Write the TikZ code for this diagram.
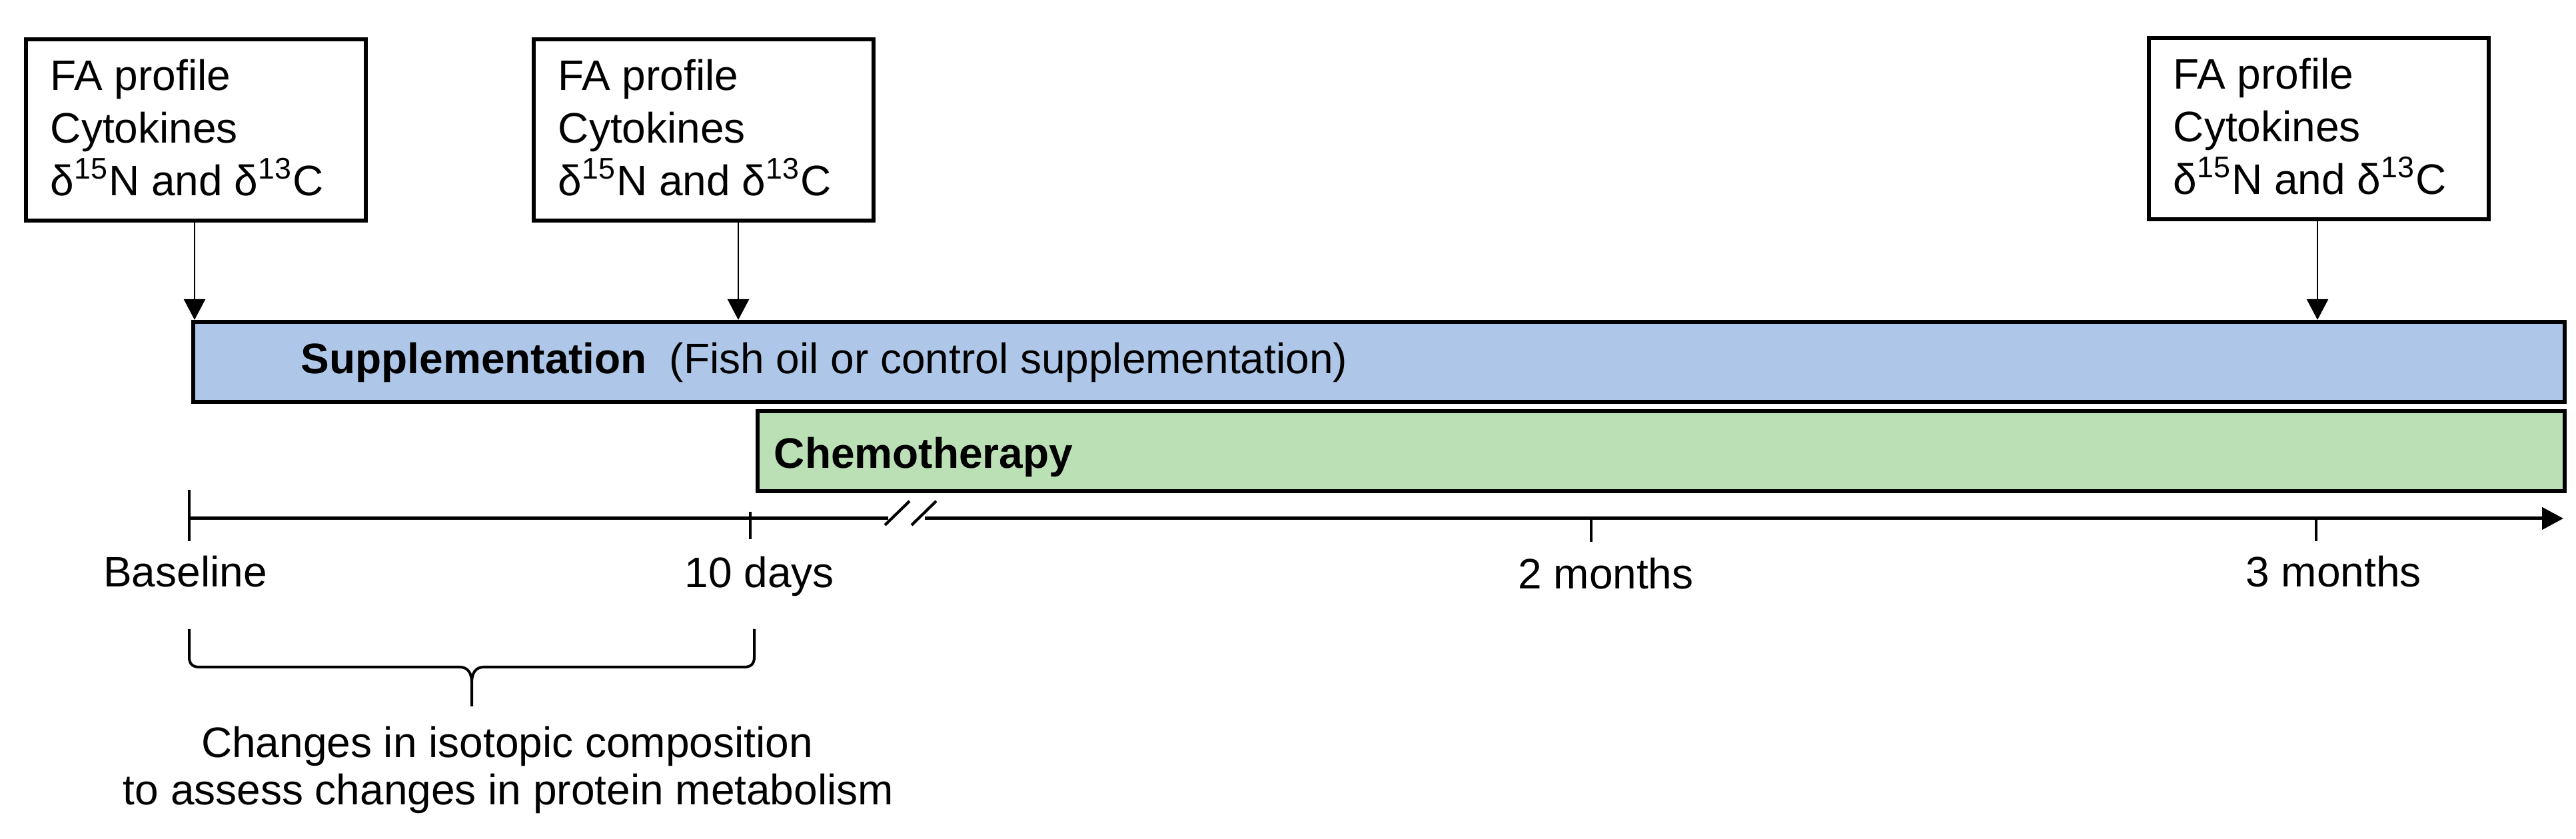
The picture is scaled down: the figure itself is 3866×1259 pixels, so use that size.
\documentclass[tikz,border=0pt]{standalone}
\usepackage{fontspec}
\setmainfont{Liberation Sans}
\usetikzlibrary{arrows.meta}
\definecolor{supblue}{RGB}{174,199,232}
\definecolor{chemogreen}{RGB}{187,224,182}
\newcommand\fatext{\vtop{\hbox{FA profile}\hbox{Cytokines}\hbox{δ\textsuperscript{15}N and δ\textsuperscript{13}C}}}
\begin{document}
\begin{tikzpicture}[x=0.25pt,y=-0.25pt,
  lbl/.style={font=\fontsize{16pt}{19.75pt}\selectfont, inner sep=0pt},
  lblb/.style={font=\fontsize{16pt}{19.75pt}\selectfont\bfseries, inner sep=0pt},
  fabox/.style={draw, line width=1.4pt, minimum width=127.5pt, minimum height=68pt, inner sep=0pt, anchor=north west},
  bar/.style={draw, line width=1.5pt, inner sep=0pt, anchor=north west, minimum height=30pt},
  arr/.style={line width=0.65pt, -{Triangle[length=7.75pt,width=8pt]}},
  axis/.style={line width=1.25pt},
  tickline/.style={line width=1.05pt},
  bracel/.style={line width=1pt}
]
\useasboundingbox (0,0) rectangle (3866,1259);

% measurement boxes
\node[fabox] (b1) at (36,56) {};
\node[fabox] (b2) at (798,56) {};
\node[fabox] (b3) at (3222,54) {};
\node[lbl, anchor=base west] (t1) at (75,136) {\fatext};
\node[lbl, anchor=base west] (t2) at (837,136) {\fatext};
\node[lbl, anchor=base west] (t3) at (3261,134) {\fatext};

% bars
\node[bar, minimum width=889.75pt, fill=supblue] (sup) at (287,480) {};
\node[bar, minimum width=678pt, fill=chemogreen] (chemo) at (1134,614) {};
\node[lblb, anchor=base west] (suptxt) at (451,561) {Supplementation};
\node[lbl, anchor=base west] (fish) at (1004,561) {(Fish oil or control supplementation)};
\node[lblb, anchor=base west] (chemotxt) at (1161,703) {Chemotherapy};

% arrows from boxes to supplementation bar
\coordinate (a1) at (292,0);
\coordinate (a2) at (1108,0);
\coordinate (a3) at (3478,0);
\draw[arr] (b1.south -| a1) -- (sup.north -| a1);
\draw[arr] (b2.south -| a2) -- (sup.north -| a2);
\draw[arr] (b3.south -| a3) -- (sup.north -| a3);

% time axis
\coordinate (t0) at (284,778);
\coordinate (bk1) at (1333,778);
\coordinate (bk2) at (1388,778);
\coordinate (tend) at (3847,778);
\draw[axis] (t0) -- (bk1);
\draw[axis, -{Triangle[length=8pt,width=8.25pt]}] (bk2) -- (tend);
\draw[tickline] (1328,788) -- (1365,752);
\draw[tickline] (1368,788) -- (1405,752);

% ticks
\draw[tickline] (284,735) -- (284,812);
\draw[tickline] (1126,768) -- (1126,809);
\draw[tickline] (2388,778) -- (2388,813);
\draw[tickline] (3476,778) -- (3476,812);

% tick labels
\node[lbl, anchor=base] (l0) at (278,881) {Baseline};
\node[lbl, anchor=base] (l10) at (1140,882) {10 days};
\node[lbl, anchor=base] (l2) at (2410,884) {2 months};
\node[lbl, anchor=base] (l3) at (3502,881) {3 months};

% brace
\draw[bracel] (284,944) -- (284,986) .. controls (284,996) and (289,1001) .. (299,1001)
  -- (690,1001) .. controls (702,1001) and (708,1010) .. (708,1024) -- (708,1060);
\draw[bracel] (708,1024) .. controls (708,1010) and (714,1001) .. (726,1001)
  -- (1117,1001) .. controls (1127,1001) and (1132,996) .. (1132,986) -- (1132,944);

% note
\node[lbl, anchor=base] (n1) at (761,1137) {Changes in isotopic composition};
\node[lbl, anchor=base] (n2) at (763,1207) {to assess changes in protein metabolism};
\end{tikzpicture}
\end{document}
